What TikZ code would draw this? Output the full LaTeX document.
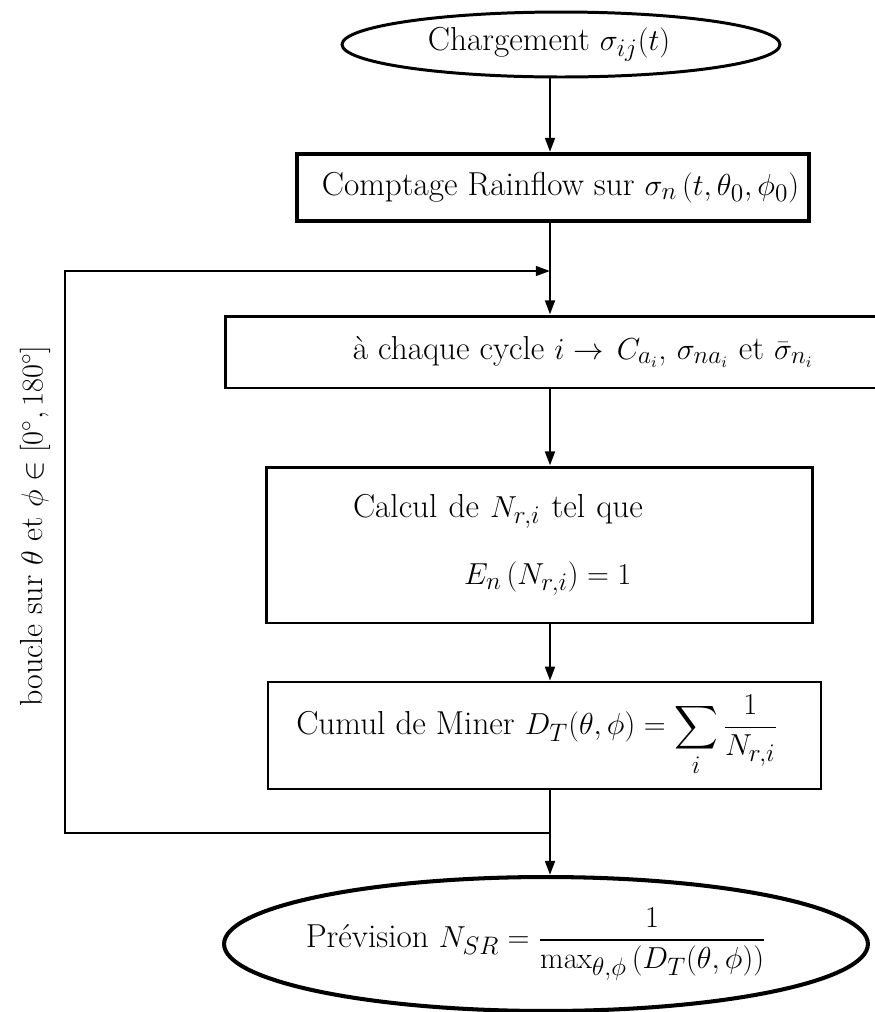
\documentclass[tikz,border=0pt]{standalone}
\usepackage{amsmath}
\usepackage{tikz}
\usetikzlibrary{shapes.geometric, arrows.meta}

\begin{document}
\begin{tikzpicture}[
  x=0.02cm, y=-0.02cm,
  font=\fontsize{18.9}{22}\selectfont,
  boite/.style={rectangle, draw, line width=1.7pt, inner sep=0pt, align=center},
  bulle/.style={ellipse, draw, line width=1.7pt, inner sep=0pt, align=center},
  fleche/.style={-{Triangle[length=8pt, width=5.5pt]}, line width=1.5pt},
]
  \clip[use as bounding box] (0,0) rectangle (875,1012);

  \node[bulle, minimum width=8.76cm, minimum height=1.3cm] (charge) at (561,44.5) {Chargement $\sigma_{ij}(t)$\hspace{0.48cm}};
  \node[boite, line width=2.3pt, minimum width=10.26cm, minimum height=1.34cm] (comptage) at (553,187.5) {\hspace{0.3cm}Comptage Rainflow sur $\sigma_n\,(t,\theta_0,\phi_0)$};
  \node[boite, minimum width=14.32cm, minimum height=1.44cm] (cycle) at (583,352) {à chaque cycle $i\rightarrow\,C_{a_i}$, $\sigma_{na_i}$ et $\bar{\sigma}_{n_i}$};
  \node[boite, align=left, text width=10.94cm, minimum height=3.12cm] (calcul) at (539.5,545) {\hspace*{1.74cm}Calcul de $N_{r,i}$ tel que\\[16pt]\hspace*{3.96cm}$E_n\,(N_{r,i})=1$};
  \node[boite, line width=1.4pt, minimum width=11.06cm, minimum height=2.14cm] (cumul) at (544.5,735.5) {Cumul de Miner $D_T(\theta,\phi)=\displaystyle\sum_i\frac{1}{N_{r,i}}$\hspace{0.3cm}};
  \node[bulle, line width=2.3pt, inner xsep=-1.2cm, minimum width=12.88cm, minimum height=2.68cm] (prevision) at (546,944) {Prévision $N_{SR}=\displaystyle\frac{1}{\max_{\theta,\phi}\,(D_T(\theta,\phi))}$\hspace{0.4cm}};
  \node[rotate=90, font=\fontsize{18.2}{21}\selectfont] (boucle) at (35,526) {boucle sur $\theta$ et $\phi\in[0^\circ,180^\circ]$};

  \coordinate (axe) at (550,0);
  \coordinate (haut) at (550,271);
  \coordinate (bas) at (550,833);
  \coordinate (coin) at (65,833);

  \draw[fleche] (charge.south -| axe) -- (comptage.north -| axe);
  \draw[fleche] (comptage.south -| axe) -- (cycle.north -| axe);
  \draw[fleche] (cycle.south -| axe) -- (calcul.north -| axe);
  \draw[fleche] (calcul.south -| axe) -- (cumul.north -| axe);
  \draw[fleche] (cumul.south -| axe) -- (prevision.north -| axe);
  % retour de la boucle
  \draw[fleche, line width=1.2pt] (bas) -- (coin) |- (haut);
\end{tikzpicture}
\end{document}
